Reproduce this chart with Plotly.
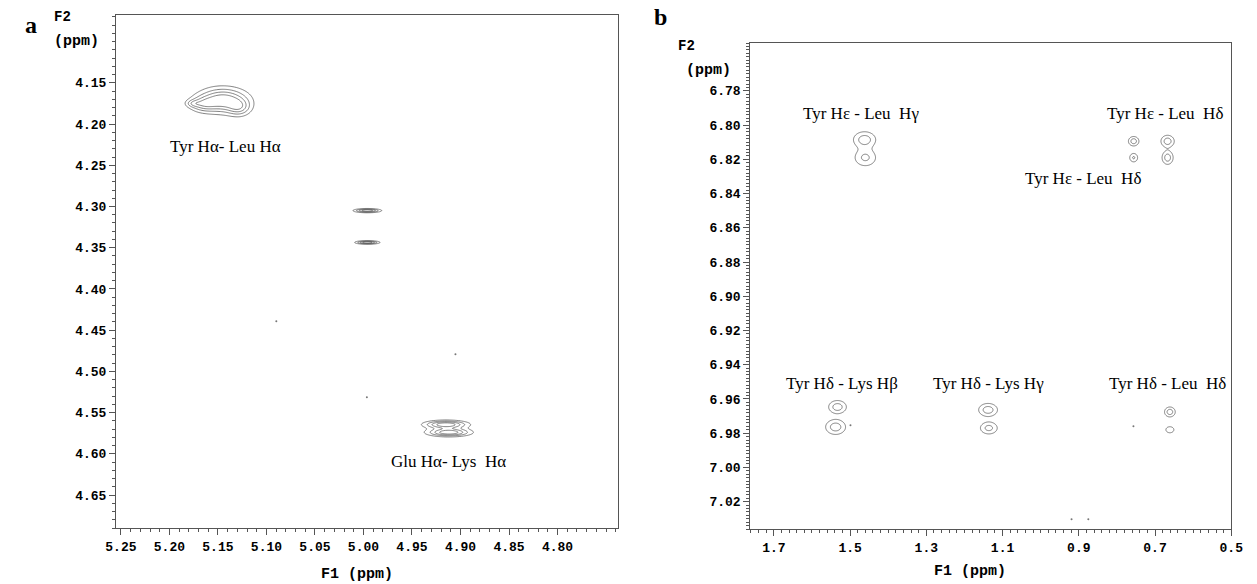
import numpy as np
import plotly.graph_objects as go

# ---------------- panel a : H-alpha region ----------------
# cross-peak components: F1 / F2 centre (ppm), F1 / F2 width (ppm), height
a_group = ["TyrLeu", "TyrLeu", "TyrLeu", "TyrLeu", "streak1", "streak2", "GluLys", "GluLys"]
a_f1 = [5.145, 5.166, 5.128, 5.176, 4.996, 4.996, 4.915, 4.912]
a_f2 = [4.171, 4.176, 4.180, 4.175, 4.305, 4.3436, 4.5645, 4.5740]
a_wf1 = [0.017, 0.009, 0.008, 0.005, 0.0085, 0.0075, 0.0145, 0.0145]
a_wf2 = [0.010, 0.006, 0.007, 0.003, 0.0015, 0.0013, 0.0032, 0.0032]
a_amp = [1.0, 0.45, 0.5, 0.3, 1.0, 1.0, 1.0, 1.0]
a_levels = [0.22, 0.42, 0.62, 0.82]

a_specks_f1 = [5.0898, 4.9965, 4.9052]
a_specks_f2 = [4.4393, 4.5313, 4.4793]

a_label_text = ["Tyr H\u03b1- Leu H\u03b1", "Glu H\u03b1- Lys \u00a0H\u03b1"]
a_label_f1 = [5.1425, 4.9123]
a_label_f2 = [4.2275, 4.6088]

a_xticks = [5.25, 5.20, 5.15, 5.10, 5.05, 5.00, 4.95, 4.90, 4.85, 4.80]
a_yticks = [4.15, 4.20, 4.25, 4.30, 4.35, 4.40, 4.45, 4.50, 4.55, 4.60, 4.65]
a_xrange = [5.255, 4.738]
a_yrange = [4.690, 4.0677]

# ---------------- panel b : aromatic / aliphatic region ----------------
b_group = ["HeLg", "HeLg", "HeLd", "HeLd", "HeLd", "HeLd",
           "HdKb", "HdKb", "HdKg", "HdKg", "HdLd", "HdLd"]
b_f1 = [1.462, 1.460, 0.756, 0.667, 0.756, 0.667,
        1.533, 1.538, 1.138, 1.136, 0.661, 0.661]
b_f2 = [6.8085, 6.8190, 6.8094, 6.8094, 6.8190, 6.8190,
        6.9647, 6.9764, 6.9664, 6.9770, 6.9676, 6.9780]
b_wf1 = [0.020, 0.020, 0.0095, 0.012, 0.008, 0.010,
         0.016, 0.018, 0.017, 0.016, 0.0097, 0.010]
b_wf2 = [0.0032, 0.0035, 0.0019, 0.0024, 0.0019, 0.0027,
         0.0026, 0.0030, 0.0026, 0.0025, 0.0020, 0.0017]
b_amp = [1.0, 0.85, 1.0, 1.0, 0.8, 1.0,
         1.0, 1.0, 1.0, 0.9, 1.0, 0.6]
b_levels = [0.35, 0.75]

b_specks_f1 = [1.499, 0.7567, 0.919, 0.875]
b_specks_f2 = [6.9753, 6.9759, 7.0303, 7.0303]

b_label_text = ["Tyr H\u03b5 - Leu \u00a0H\u03b3", "Tyr H\u03b5 - Leu \u00a0H\u03b4",
                "Tyr H\u03b5 - Leu \u00a0H\u03b4", "Tyr H\u03b4 - Lys H\u03b2",
                "Tyr H\u03b4 - Lys H\u03b3", "Tyr H\u03b4 - Leu \u00a0H\u03b4"]
b_label_f1 = [1.4706, 0.6742, 0.8881, 1.5222, 1.1356, 0.6665]
b_label_f2 = [6.7930, 6.7930, 6.8309, 6.9508, 6.9508, 6.9508]

b_xticks = [1.7, 1.5, 1.3, 1.1, 0.9, 0.7, 0.5]
b_yticks = [6.78, 6.80, 6.82, 6.84, 6.86, 6.88, 6.90, 6.92, 6.94, 6.96, 6.98, 7.00, 7.02]
b_xrange = [1.762, 0.500]
b_yrange = [7.036, 6.752]

INK = "#4a4a4a"
FRAME = "#555555"
MONO = "Liberation Mono"
SERIF = "Liberation Serif"

fig = go.Figure()


def add_cross_peaks(groups, f1, f2, wf1, wf2, amp, levels, xa, ya):
    """Sum of 2D Gaussian lineshapes on a local grid per cross peak, drawn as contour lines."""
    groups = np.array(groups)
    f1, f2 = np.array(f1), np.array(f2)
    wf1, wf2, amp = np.array(wf1), np.array(wf2), np.array(amp)
    for g in dict.fromkeys(groups):
        m = groups == g
        x = np.linspace((f1[m] - 4.5 * wf1[m]).min(), (f1[m] + 4.5 * wf1[m]).max(), 140)
        y = np.linspace((f2[m] - 4.5 * wf2[m]).min(), (f2[m] + 4.5 * wf2[m]).max(), 140)
        X, Y = np.meshgrid(x, y)
        Z = np.zeros_like(X)
        for cx, cy, sx, sy, a in zip(f1[m], f2[m], wf1[m], wf2[m], amp[m]):
            Z += a * np.exp(-0.5 * (((X - cx) / sx) ** 2 + ((Y - cy) / sy) ** 2))
        step = levels[1] - levels[0] if len(levels) > 1 else 1.0
        fig.add_trace(go.Contour(
            x=x, y=y, z=Z, xaxis=xa, yaxis=ya,
            contours=dict(coloring="lines", start=levels[0], end=levels[-1], size=step),
            line=dict(width=0.7, smoothing=1),
            colorscale=[[0, INK], [1, INK]], showscale=False, hoverinfo="skip",
        ))


add_cross_peaks(a_group, a_f1, a_f2, a_wf1, a_wf2, a_amp, a_levels, "x", "y")
add_cross_peaks(b_group, b_f1, b_f2, b_wf1, b_wf2, b_amp, b_levels, "x2", "y2")

fig.add_trace(go.Scatter(x=a_specks_f1, y=a_specks_f2, mode="markers", xaxis="x", yaxis="y",
                         marker=dict(size=2, color="#777"), hoverinfo="skip"))
fig.add_trace(go.Scatter(x=b_specks_f1, y=b_specks_f2, mode="markers", xaxis="x2", yaxis="y2",
                         marker=dict(size=2, color="#777"), hoverinfo="skip"))

annotations = []
for t, x, y in zip(a_label_text, a_label_f1, a_label_f2):
    annotations.append(dict(text=t, x=x, y=y, xref="x", yref="y", showarrow=False,
                            font=dict(family=SERIF, size=17, color="black")))
for t, x, y in zip(b_label_text, b_label_f1, b_label_f2):
    annotations.append(dict(text=t, x=x, y=y, xref="x2", yref="y2", showarrow=False,
                            font=dict(family=SERIF, size=17, color="black")))

W, H = 1257, 584


def px(xp, yp):
    return xp / W, 1 - yp / H


for text, (xp, yp), size, fam in [
    ("a", (20, 25), 24, SERIF), ("b", (662, 17), 24, SERIF),
    ("F2", (52, 17), 14, MONO), ("(ppm)", (67, 42), 15, MONO),
    ("F2", (688, 46), 14, MONO), ("(ppm)", (710, 70), 15, MONO),
    ("F1 (ppm)", (352, 574), 15, MONO), ("F1 (ppm)", (977, 571), 15, MONO),
]:
    x, y = px(xp, yp)
    annotations.append(dict(text=text, x=x, y=y, xref="paper", yref="paper", showarrow=False,
                            xanchor="center", yanchor="middle",
                            font=dict(family=fam, size=size, color="black", weight="bold")))


def axis_style(tickvals, fmt, minor_dtick, rng, domain, anchor):
    return dict(
        range=rng, domain=domain, anchor=anchor,
        tickmode="array", tickvals=tickvals, tickformat=fmt,
        ticks="outside", ticklen=6, tickwidth=1, tickcolor=FRAME,
        minor=dict(tickmode="linear", tick0=tickvals[0], dtick=minor_dtick,
                   ticks="outside", ticklen=3, tickwidth=1, tickcolor=FRAME),
        showline=True, linecolor=FRAME, linewidth=1, mirror=True,
        showgrid=False, zeroline=False,
        tickfont=dict(family=MONO, size=13, color="black", weight="bold"),
    )


fig.update_layout(
    width=W, height=H,
    margin=dict(l=0, r=0, t=0, b=0),
    paper_bgcolor="white", plot_bgcolor="white",
    showlegend=False,
    xaxis=axis_style(a_xticks, ".2f", 0.01, a_xrange, [107 / W, 618 / W], "y"),
    yaxis=axis_style(a_yticks, ".2f", 0.01, a_yrange, [1 - 528 / H, 1 - 15 / H], "x"),
    xaxis2=axis_style(b_xticks, ".1f", 0.02, b_xrange, [753 / W, 1243 / W], "y2"),
    yaxis2=axis_style(b_yticks, ".2f", 0.002, b_yrange, [1 - 529 / H, 1 - 43 / H], "x2"),
    annotations=annotations,
)

fig.write_html("out.html")
